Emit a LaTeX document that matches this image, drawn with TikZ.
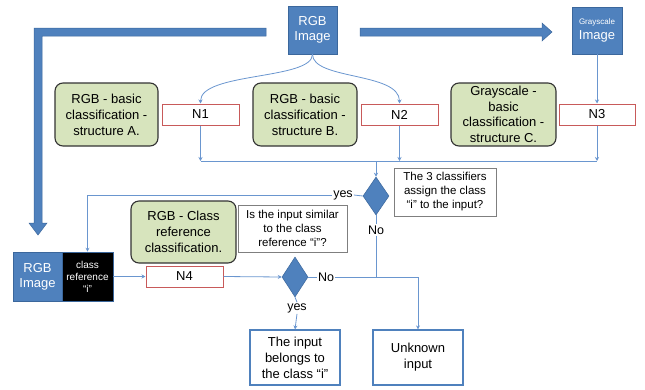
\documentclass[tikz,border=0pt]{standalone}
\usepackage{fontspec}
\setmainfont{Liberation Sans}
\usetikzlibrary{arrows.meta,shapes.geometric}
\definecolor{obl}{HTML}{4F81BD}
\definecolor{obd}{HTML}{3B679C}
\definecolor{cline}{HTML}{6A96CF}
\definecolor{gfill}{HTML}{D7E4BD}
\definecolor{nred}{HTML}{C85A5A}
\definecolor{qgray}{HTML}{7F7F7F}
\tikzset{
  conn/.style={draw=cline,line width=0.8pt},
  arr/.style={conn,-{Stealth[length=4pt,width=4pt]}},
  fbig/.style={fill=obl,draw=obd,line width=0.5pt},
  bluebox/.style={fill=obl,draw=obd,line width=0.6pt,text=white,inner sep=0pt,align=center,font=\fontsize{13}{15}\selectfont},
  greenbox/.style={fill=gfill,draw=black!80,line width=1.1pt,rounded corners=8pt,inner sep=0pt,align=center,font=\fontsize{13}{16}\selectfont},
  nbox/.style={fill=white,draw=nred,line width=1pt,inner sep=0pt,minimum width=77pt,minimum height=21pt,font=\fontsize{13}{15}\selectfont},
  qbox/.style={fill=white,draw=qgray,line width=1pt,inner sep=0pt,align=center,font=\fontsize{11.5}{14}\selectfont},
  obox/.style={fill=white,draw=obl,line width=1.2pt,inner sep=0pt,align=center,minimum width=90pt,minimum height=55pt,font=\fontsize{13}{16}\selectfont},
  dia/.style={diamond,fill=obl,draw=obd,line width=0.5pt,inner sep=0pt,minimum width=26pt},
  lbl/.style={inner sep=1pt,font=\fontsize{12.5}{15}\selectfont},
}
\begin{document}
\begin{tikzpicture}[x=1pt,y=-1pt]
\useasboundingbox (0,0) rectangle (645,389);
% thick arrows
\draw[fbig] (266,28) -- (34,28) -- (34,223) -- (29,223) -- (38,235) -- (47,223) -- (42,223) -- (42,36) -- (266,36) -- cycle;
\draw[fbig] (360,28) -- (542,28) -- (542,23) -- (552,32) -- (542,41) -- (542,36) -- (360,36) -- cycle;
% top images
\node[bluebox,minimum width=49pt,minimum height=48pt] (rgbtop) at (312.5,30) {RGB\\Image};
\node[bluebox,minimum width=50pt,minimum height=47pt] (gray) at (597,30.5) {{\fontsize{8}{13}\selectfont Grayscale}\\Image};
% green boxes
\node[greenbox,minimum width=103pt,minimum height=63pt] (gA) at (106.5,114.5) {RGB - basic\\classification -\\structure A.};
\node[greenbox,minimum width=104pt,minimum height=63pt] (gB) at (305,114.5) {RGB - basic\\classification -\\structure B.};
\node[greenbox,minimum width=105pt,minimum height=63pt,font=\fontsize{13}{15.5}\selectfont] (gC) at (503.5,114.5) {Grayscale -\\basic\\classification -\\structure C.};
% N boxes
\node[nbox] (n1) at (200.5,114.5) {N1};
\node[nbox] (n2) at (399.5,114.5) {N2};
\node[nbox,minimum width=76pt] (n3) at (597,114.5) {N3};
% connectors top
\draw[arr] (rgbtop.south) .. controls (312.5,80) and (200.5,72) .. (n1.north);
\draw[arr] (rgbtop.south) .. controls (312.5,80) and (399.5,72) .. (n2.north);
\draw[arr] (gray.south) -- (n3.north);
\coordinate (busL) at (200.5,161);
\coordinate (busR) at (597,161);
\coordinate (busM) at (376,161);
\draw[conn] (busL) -- (busR);
\draw[arr] (n1.south) -- (busL);
\draw[arr] (n2.south) -- (n2.south |- busL);
\draw[arr] (n3.south) -- (busR);
% decision 1
\node[dia,minimum height=38pt] (d1) at (376,196) {};
\draw[arr] (busM) -- (d1.north);
\node[qbox,minimum width=102pt,minimum height=48pt] (q1) at (445,192) {The 3 classifiers\\assign the class\\“i” to the input?};
% lower left
\node[greenbox,minimum width=105pt,minimum height=62pt] (gD) at (183.5,232) {RGB - Class\\reference\\classification.};
\node[qbox,minimum width=109pt,minimum height=47pt] (q2) at (292.5,228.5) {Is the input similar\\to the class\\reference “i”?};
\node[bluebox,minimum width=49pt,minimum height=49pt] (rgbb) at (37.5,276.5) {RGB\\Image};
\node[fill=black,draw=obd,line width=0.6pt,text=white,inner sep=0pt,align=center,minimum width=51pt,minimum height=49pt,font=\fontsize{10}{12}\selectfont] (cref) at (87.5,276.5) {class\\reference\\“i”};
\node[nbox] (n4) at (184.5,276.5) {N4};
\node[dia,minimum height=40pt] (d2) at (295,277) {};
% labels
\node[lbl] (yes1) at (343,195) {yes};
\node[lbl] (no1) at (376,230) {No};
\node[lbl] (no2) at (326,277) {No};
\node[lbl] (yes2) at (297,308) {yes};
% output boxes
\node[obox] (belong) at (295,357.5) {The input\\belongs to\\the class “i”};
\node[obox] (unk) at (418,357.5) {Unknown\\input};
% connectors bottom
\draw[conn] (d1.west) -- (yes1.east);
\draw[arr] (yes1.west) -| (cref.north);
\draw[arr] (cref.east) -- (n4.west);
\draw[arr] (n4.east) -- (d2.west);
\draw[conn] (d2.east) -- (no2.west);
\coordinate (j) at (376,277);
\draw[conn] (d1.south) -- (no1.north);
\draw[conn] (no1.south) -- (j);
\draw[arr] (no2.east) -| (unk.north);
\draw[conn] (d2.south) -- (yes2.north);
\draw[arr] (yes2.south) -- (belong.north);
\end{tikzpicture}
\end{document}
